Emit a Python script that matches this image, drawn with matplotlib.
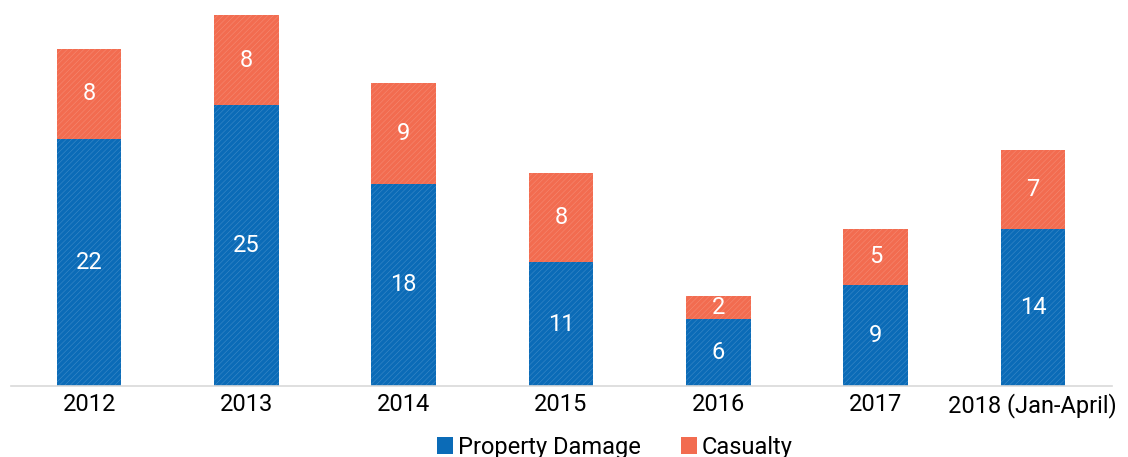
import matplotlib.pyplot as plt
import numpy as np
from matplotlib.patches import Patch

plt.rcParams['font.family'] = ['Roboto', 'DejaVu Sans']
plt.rcParams['hatch.linewidth'] = 0.4

years = ["2012", "2013", "2014", "2015", "2016", "2017", "2018 (Jan-April)"]
property_damage = [22, 25, 18, 11, 6, 9, 14]
casualty = [8, 8, 9, 8, 2, 5, 7]

blue = "#0B6BB7"
orange = "#F26C50"

fig = plt.figure(figsize=(11.28, 4.57), dpi=100)
ax = fig.add_axes([10.5 / 1128, 71 / 457, 1101 / 1128, 381.9 / 457])

x = np.arange(len(years))
w = 0.41
ax.bar(x, property_damage, w, color=blue, edgecolor="#3D8AC8", linewidth=0,
       hatch="//////", label="Property Damage")
ax.bar(x, casualty, w, bottom=property_damage, color=orange, edgecolor="#F58A73",
       linewidth=0, hatch="//////", label="Casualty")

for i in range(len(years)):
    ax.text(x[i], property_damage[i] / 2, str(property_damage[i]), ha="center", va="center",
            color="white", fontsize=17)
    ax.text(x[i], property_damage[i] + casualty[i] / 2, str(casualty[i]), ha="center",
            va="center", color="white", fontsize=17)

ax.set_xlim(-0.5, len(years) - 0.5)
ax.set_ylim(0, 34)
ax.set_xticks(x)
ax.set_xticklabels(years, fontsize=17)
ax.set_yticks([])
ax.tick_params(axis="x", length=0, pad=5)
for s in ["top", "right", "left"]:
    ax.spines[s].set_visible(False)
ax.spines["bottom"].set_color("#D9D9D9")
ax.spines["bottom"].set_linewidth(1.2)

handles = [Patch(facecolor=blue, edgecolor="none"), Patch(facecolor=orange, edgecolor="none")]
fig.legend(handles, ["Property Damage", "Casualty"], loc="lower center",
           bbox_to_anchor=(0.545, -0.05), ncol=2, frameon=False, fontsize=17,
           handlelength=0.7, handleheight=0.7, handletextpad=0.2, columnspacing=1.7)

fig.savefig("out.png", dpi=100)
